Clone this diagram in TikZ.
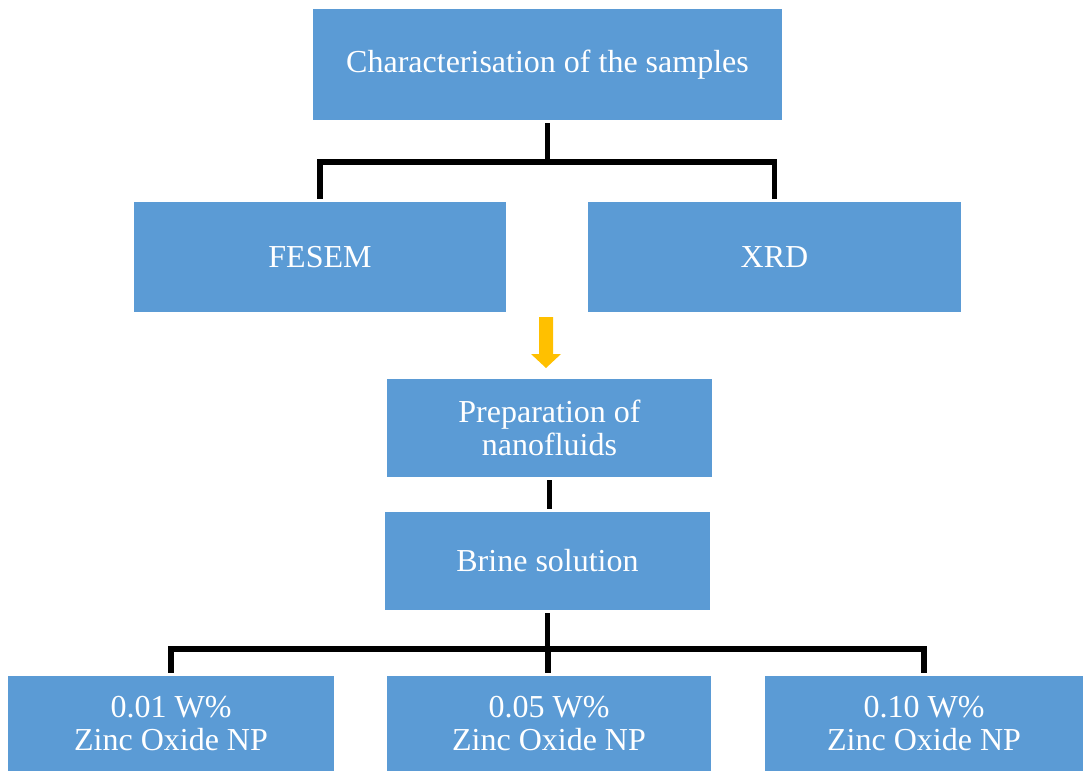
\documentclass[tikz,border=0pt]{standalone}
\usepackage{fontspec}
\setmainfont{Liberation Serif}
\definecolor{boxblue}{HTML}{5B9BD5}
\definecolor{arrorange}{HTML}{FFC000}
\tikzset{
  box/.style={fill=boxblue, draw=none, text=white, align=center, inner sep=0pt,
    font=\fontsize{32}{33}\selectfont},
  conn/.style={draw=black, line width=5.5pt},
  blockarrow/.style={fill=arrorange, draw=none},
}
\begin{document}
\begin{tikzpicture}[x=1pt,y=-1pt]
\useasboundingbox (0,0) rectangle (1083,771);
\node[box, minimum width=469pt, minimum height=111pt] (top) at (547.5,64.5) {Characterisation of the samples};
\node[box, minimum width=372pt, minimum height=110pt] (fesem) at (320,257) {FESEM};
\node[box, minimum width=373pt, minimum height=110pt] (xrd) at (774.5,257) {XRD};
\node[box, minimum width=325pt, minimum height=98pt] (prep) at (549.5,428) {Preparation of\\nanofluids};
\node[box, minimum width=325pt, minimum height=98pt] (brine) at (547.5,561) {Brine solution};
\node[box, minimum width=326pt, minimum height=95pt] (b1) at (171,723.5) {0.01 W\%\\Zinc Oxide NP};
\node[box, minimum width=324pt, minimum height=95pt] (b2) at (549,723.5) {0.05 W\%\\Zinc Oxide NP};
\node[box, minimum width=318pt, minimum height=95pt] (b3) at (924,723.5) {0.10 W\%\\Zinc Oxide NP};

\coordinate (j1) at (547,162);
\coordinate (j2) at (548,649);
\coordinate (arrA) at (546,317);

\draw[conn] ([yshift=-3pt]top.south) -- (top.south |- j1);
\draw[conn] (fesem.north |- j1) -- ([yshift=3pt]fesem.north);
\draw[conn] (xrd.north |- j1) -- ([yshift=3pt]xrd.north);
\draw[conn, shorten >=-2.75pt, shorten <=-2.75pt] (fesem.north |- j1) -- (xrd.north |- j1);

\fill[blockarrow] (arrA) ++(-7,0) -- ++(14,0) -- ++(0,37) -- ++(8,0) -- ++(-15,14) -- ++(-15,-14) -- ++(8,0) -- cycle;

\draw[conn] ([yshift=-3pt]prep.south) -- ([yshift=3pt]prep.south |- brine.north);

\draw[conn] ([yshift=-3pt]brine.south) -- (brine.south |- j2);
\draw[conn, shorten >=-2.75pt, shorten <=-2.75pt] (b1.north |- j2) -- (b3.north |- j2);
\draw[conn] (b1.north |- j2) -- ([yshift=3pt]b1.north);
\draw[conn] (j2) -- ([yshift=3pt]b2.north -| j2);
\draw[conn] (b3.north |- j2) -- ([yshift=3pt]b3.north);
\end{tikzpicture}
\end{document}
